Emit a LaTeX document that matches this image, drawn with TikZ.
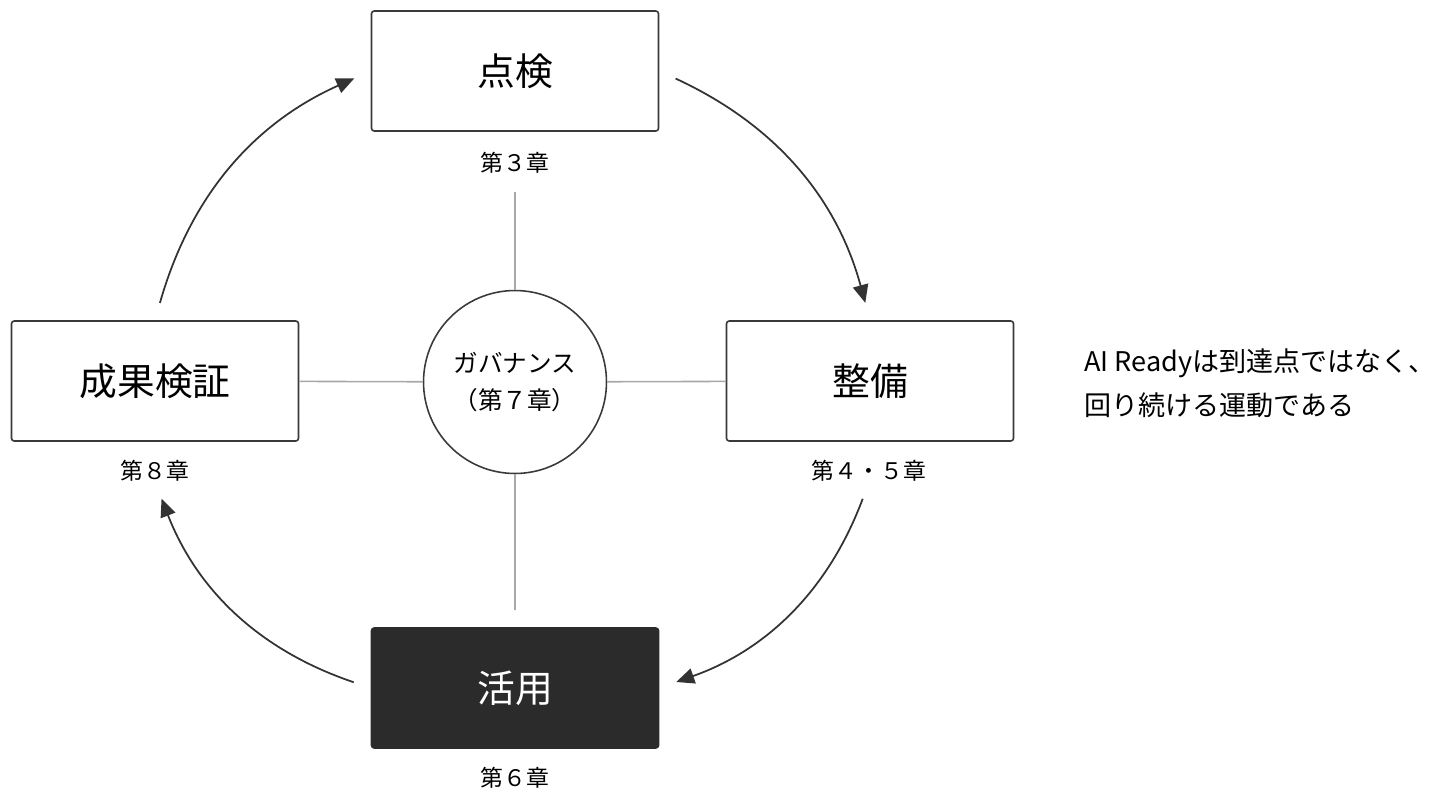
\documentclass[tikz,border=0pt]{standalone}
\usepackage{fontspec}
\setmainfont{Noto Sans CJK JP}
\usetikzlibrary{arrows.meta,positioning}

\definecolor{edge}{HTML}{3A3A3A}
\definecolor{darkfill}{HTML}{2B2B2B}
\definecolor{spokegray}{HTML}{A8A8A8}
\definecolor{arrowgray}{HTML}{333333}

\begin{document}
\begin{tikzpicture}[
    x=0.02cm,
    y=-0.02cm,
    stage/.style={
        draw=edge,
        line width=0.9pt,
        rounded corners=1.5pt,
        fill=white,
        minimum width=5.74cm,
        minimum height=2.4cm,
        inner sep=0pt,
        font=\fontsize{21.5}{26}\selectfont
    },
    active/.style={
        stage,
        fill=darkfill,
        draw=darkfill,
        text=white
    },
    chapter/.style={
        inner sep=0pt,
        font=\fontsize{13}{16}\selectfont
    },
    hub/.style={
        draw=edge,
        line width=0.9pt,
        circle,
        minimum size=3.66cm,
        inner sep=0pt,
        align=center,
        font=\fontsize{14}{21}\selectfont
    },
    spoke/.style={
        draw=spokegray,
        line width=0.9pt
    },
    cycle/.style={
        draw=arrowgray,
        line width=1pt,
        -{Triangle[length=0.36cm,width=0.31cm]},
        shorten <=0.36cm,
        shorten >=0.36cm
    }
]
\useasboundingbox (0,0) rectangle (1440,802);

% =====================
% Etapas
% =====================
\node[stage]  (chk)    at (515,71)  {点検};
\node[stage]  (prep)   at (870,381) {整備};
\node[active] (act)    at (515,688) {活用};
\node[stage]  (verify) at (155,381) {成果検証};

% =====================
% Capitulos
% =====================
\node[chapter] (ch3)  at (515,163) {第３章};
\node[chapter] (ch45) at (869,471) {第４・５章};
\node[chapter] (ch6)  at (515,778) {第６章};
\node[chapter] (ch8)  at (155,471) {第８章};

% =====================
% Centro
% =====================
\node[hub] (gov) at (515,382) {ガバナンス\\（第７章）};

\draw[spoke, shorten >=0.36cm] (gov) -- (ch3);
\draw[spoke, shorten >=0.34cm] (gov) -- (act);
\draw[spoke] (gov) -- (verify);
\draw[spoke] (gov) -- (prep);

% =====================
% Ciclo
% =====================
\draw[cycle] (chk.east)    to[bend left=25] (prep.north);
\draw[cycle] (ch45.south)  to[bend left=25] (act.east);
\draw[cycle] (act.west)    to[bend left=25] (ch8.south);
\draw[cycle] (verify.north) to[bend left=25] (chk.west);

% =====================
% Nota
% =====================
\node[anchor=west, align=left, inner sep=0pt,
      font=\fontsize{15.4}{25}\selectfont] (note) at (1084,383)
    {AI Readyは到達点ではなく、\\回り続ける運動である};

\end{tikzpicture}
\end{document}
